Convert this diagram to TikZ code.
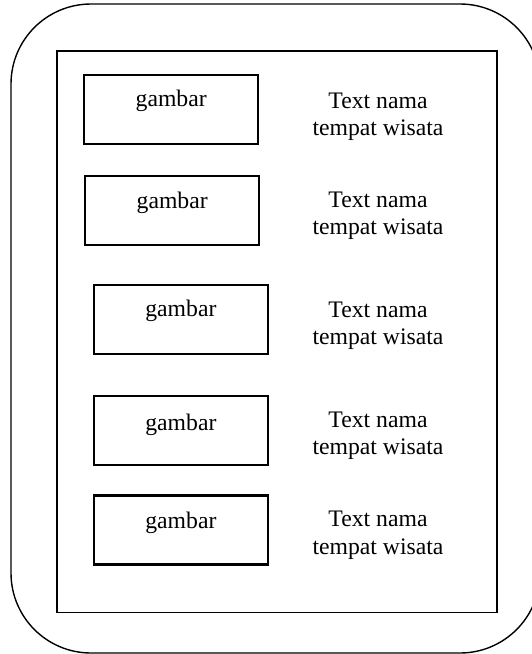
\documentclass[tikz,border=0pt]{standalone}
\usepackage{fontspec}
\setmainfont{Liberation Serif}
\begin{document}
\begin{tikzpicture}[x=1pt,y=-1pt,
  frame/.style={draw, line width=1.4pt, rounded corners=80pt},
  panel/.style={draw, line width=1.6pt},
  picbox/.style={draw, line width=2.4pt, minimum width=174pt, minimum height=69pt,
                 anchor=north west, inner sep=0pt},
  caption/.style={font=\fontsize{23.7}{27.5}\selectfont, inner sep=0pt, anchor=base},
  ]
  \path[use as bounding box, clip] (0,0) rectangle (532,654);

  % device outline and screen
  \draw[frame] (11,4) rectangle (540,653);
  \draw[panel] (57,51) rectangle (497,612.5);

  % picture placeholders
  \node[picbox] (b1) at (83,74) {};
  \node[picbox] (b2) at (84,175) {};
  \node[picbox] (b3) at (92.7,283.7) {};
  \node[picbox] (b4) at (92.7,395) {};
  \node[picbox] (b5) at (92.7,494.3) {};

  \node[caption] (g1) at ([yshift=-32.7pt]b1.north) {gambar};
  \node[caption] (g2) at ([yshift=-33pt]b2.north) {gambar};
  \node[caption] (g3) at ([yshift=-33pt]b3.north) {gambar};
  \node[caption] (g4) at ([yshift=-35pt]b4.north) {gambar};
  \node[caption] (g5) at ([yshift=-33.7pt]b5.north) {gambar};

  % place names (anchored on the baseline of the second line)
  \node[caption, align=center] (t1) at (378,135.8) {Text nama\\tempat wisata};
  \node[caption, align=center] (t2) at (378,234.5) {Text nama\\tempat wisata};
  \node[caption, align=center] (t3) at (378,344.5) {Text nama\\tempat wisata};
  \node[caption, align=center] (t4) at (378,454.5) {Text nama\\tempat wisata};
  \node[caption, align=center] (t5) at (378,554) {Text nama\\tempat wisata};
\end{tikzpicture}
\end{document}
